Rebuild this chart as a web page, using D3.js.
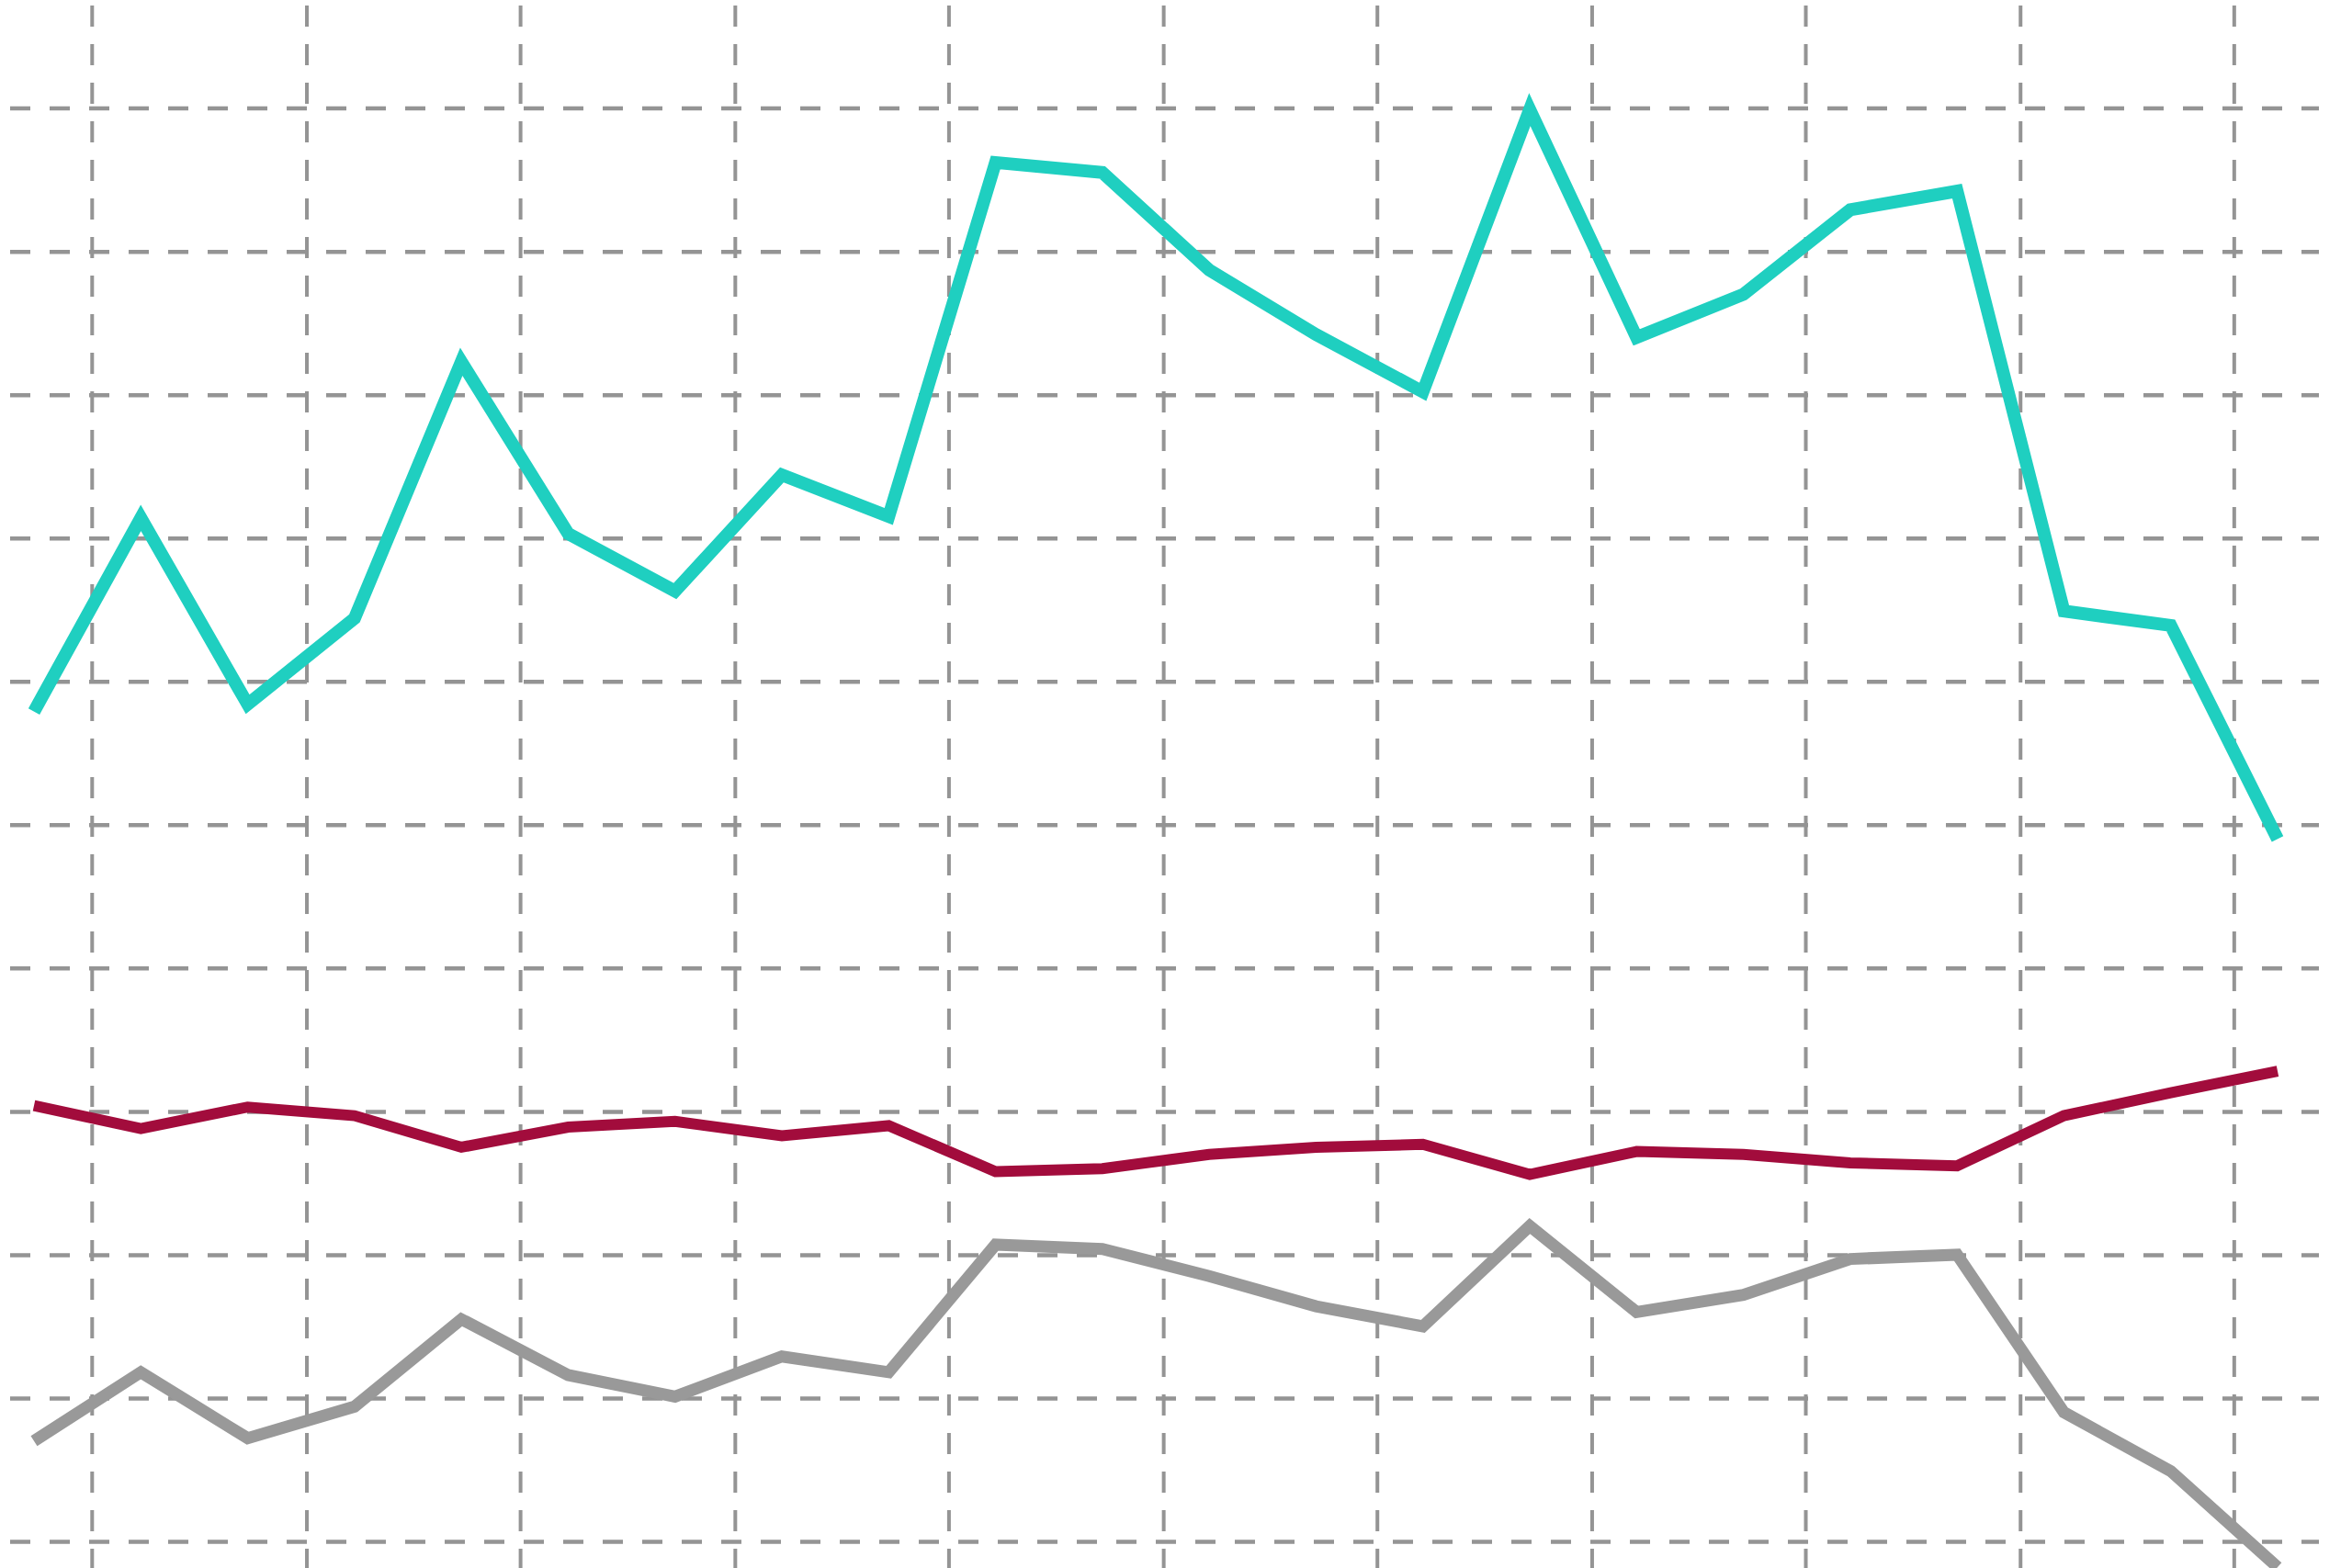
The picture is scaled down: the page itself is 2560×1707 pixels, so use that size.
<!DOCTYPE html>
<html>
<head>
<meta charset="utf-8">
<script src="https://cdn.jsdelivr.net/npm/d3@7"></script>
<style>
  html, body { margin: 0; padding: 0; background: #ffffff; }
  svg { display: block; }
</style>
</head>
<body>
<script>
// ---- data (in grid units) ----
const periods = [0,1,2,3,4,5,6,7,8,9,10,11,12,13,14,15,16,17,18,19,20,21];
const cyanSeries = [5.79,7.14,5.84,6.44,8.23,7.03,6.63,7.44,7.15,9.62,9.55,8.87,8.42,8.02,9.99,8.40,8.70,9.29,9.42,6.49,6.39,4.90];
const redSeries  = [3.04,2.88,3.03,2.97,2.75,2.89,2.93,2.83,2.90,2.58,2.60,2.70,2.75,2.77,2.56,2.72,2.70,2.64,2.62,2.97,3.13,3.28];
const graySeries = [0.70,1.18,0.72,0.94,1.55,1.16,1.01,1.29,1.18,2.07,2.04,1.85,1.64,1.50,2.20,1.60,1.72,1.97,2.00,0.90,0.49,-0.18];
const yTicks = [0,1,2,3,4,5,6,7,8,9,10];
const xGridTicks = [0.54,2.55,4.55,6.56,8.56,10.57,12.57,14.58,16.58,18.59,20.59];

// ---- layout ----
const W = 2560, H = 1707;
const svg = d3.select("body").append("svg").attr("width", W).attr("height", H);

const x = d3.scaleLinear().domain([0, 21]).range([37, 2479]);
const y = d3.scaleLinear().domain([0, 10]).range([1678, 117.6]);

const gridColor = "#949494";

// horizontal dashed grid
const gridLeft = 11, gridRight = 2524;
const hg = svg.append("g")
  .attr("transform", `translate(${gridLeft},0)`)
  .call(d3.axisLeft(y).tickValues(yTicks).tickSize(-(gridRight - gridLeft)).tickFormat(""));
hg.select(".domain").remove();
hg.selectAll(".tick line")
  .attr("stroke", gridColor).attr("stroke-width", 4.5).attr("stroke-dasharray", "22,21");

// vertical dashed grid
const vg = svg.append("g")
  .call(d3.axisBottom(x).tickValues(xGridTicks).tickSize(H).tickFormat(""));
vg.select(".domain").remove();
vg.selectAll(".tick line")
  .attr("stroke", gridColor).attr("stroke-width", 4).attr("stroke-dasharray", "23,19")
  .attr("stroke-dashoffset", -6);

// lines
const line = d3.line().x((d, i) => x(periods[i])).y(d => y(d));

const series = [
  { values: graySeries, color: "#999999", width: 13 },
  { values: redSeries,  color: "#a20c3c", width: 12 },
  { values: cyanSeries, color: "#1fcfc0", width: 14 }
];

svg.append("g").selectAll("path")
  .data(series)
  .join("path")
  .attr("d", d => line(d.values))
  .attr("fill", "none")
  .attr("stroke", d => d.color)
  .attr("stroke-width", d => d.width)
  .attr("stroke-linejoin", "miter")
  .attr("stroke-linecap", "butt");
</script>
</body>
</html>
